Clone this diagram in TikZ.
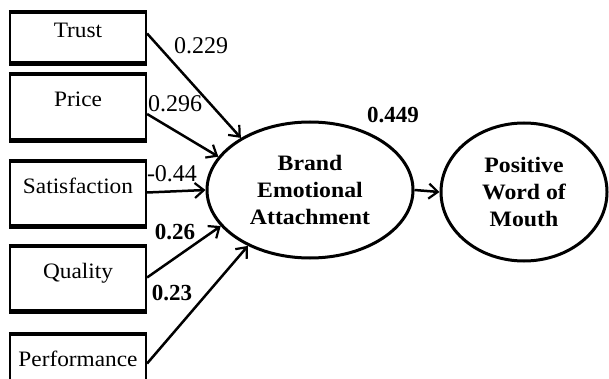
\documentclass[tikz,border=0pt]{standalone}
\usepackage{fontspec}
\setmainfont{Liberation Serif}
\newfontfamily\boxfont[FakeStretch=1.06]{Liberation Serif}
\newfontfamily\ellfont[FakeStretch=1.08]{Liberation Serif}
\usetikzlibrary{arrows.meta,shapes.geometric}
\begin{document}
\begin{tikzpicture}[x=1pt,y=-1pt,
  boxnode/.style={draw,line width=2.2pt,rectangle,minimum width=136pt,inner sep=0pt,
     text height=14pt,text depth=14pt,font=\boxfont\fontsize{22}{26}\selectfont},
  latent/.style={draw,line width=3pt,ellipse,inner sep=0pt,align=center,
     font=\ellfont\bfseries\fontsize{22}{27}\selectfont},
  arr/.style={line width=2.5pt,-{Straight Barb[length=9pt,width=15pt,line width=2.2pt]}},
  coef/.style={inner sep=0pt,font=\fontsize{24}{28}\selectfont},
  bcoef/.style={inner sep=0pt,font=\bfseries\fontsize{23}{27}\selectfont}]
\clip (0,0) rectangle (609,379);
\fill[white] (0,0) rectangle (609,379);
% boxes
\node[boxnode,minimum height=49pt] (trust) at (78,37.5) {Trust};
\node[boxnode,minimum height=64pt] (price) at (78,107) {Price};
\node[boxnode,minimum height=63pt] (sat) at (78,193.5) {Satisfaction};
\node[boxnode,minimum height=63pt] (qual) at (78,278.5) {Quality};
\node[boxnode,minimum height=63pt] (perf) at (78,366.5) {Performance};
\foreach \b in {trust,price,sat,qual,perf} {
  \draw[line width=3pt] (\b.north west) -- (\b.north east);
}
\foreach \b in {trust,price,sat,qual} {
  \draw[line width=4.5pt] ([yshift=-0.8pt]\b.south west) -- ([yshift=-0.8pt]\b.south east);
}
% latent variables
\node[latent,minimum width=206pt,minimum height=136pt] (bea) at (310,190) {Brand\\Emotional\\Attachment};
\node[latent,minimum width=166pt,minimum height=138pt] (pwm) at (524,192) {Positive\\Word of\\Mouth};
% arrows
\draw[arr] ([yshift=4pt]trust.east) -- (bea.143);
\draw[arr] ([yshift=-7pt]price.east) -- (bea.160);
\draw[arr] ([yshift=1pt]sat.east) -- (bea.180);
\draw[arr] ([yshift=1pt]qual.east) -- (bea.202);
\draw[arr] ([yshift=3pt]perf.east) -- (bea.222);
\draw[arr] (bea.east) -- (pwm.west);
% coefficients
\node[coef] (c1) at (201,46) {0.229};
\node[coef] (c2) at (175,104) {0.296};
\node[coef] (c3) at (172,174) {-0.44};
\node[bcoef] (c4) at (175,232) {0.26};
\node[bcoef] (c5) at (172,293) {0.23};
\node[bcoef] (c6) at (393,115) {0.449};
\end{tikzpicture}
\end{document}
